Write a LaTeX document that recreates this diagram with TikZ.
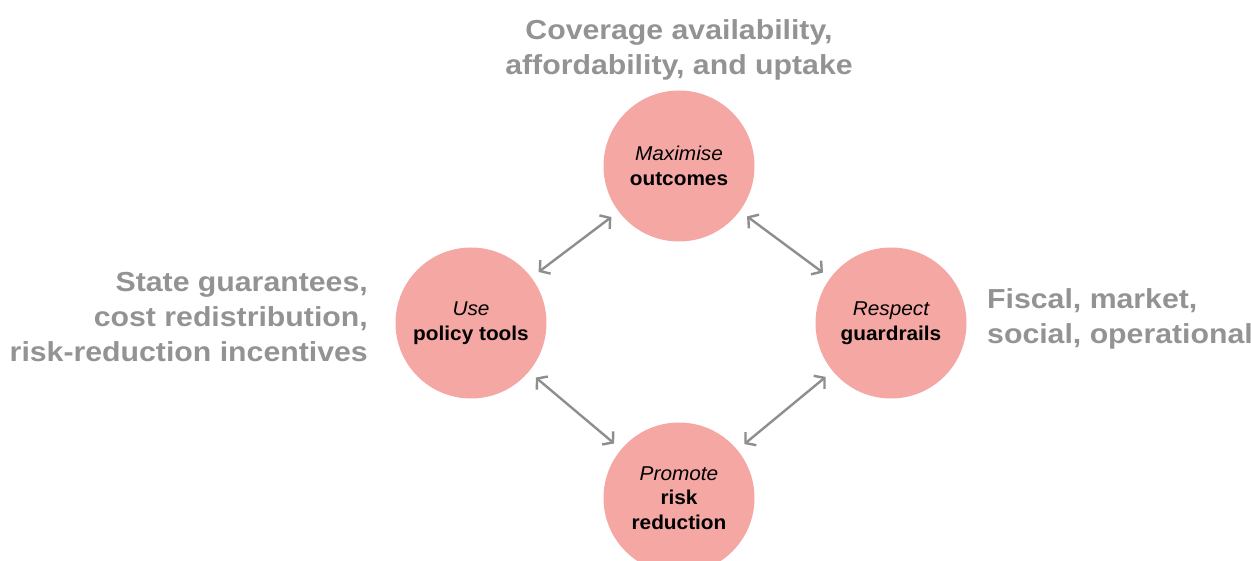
\documentclass[tikz,border=0pt]{standalone}
\usepackage{fontspec}
\setmainfont{Liberation Sans}
\newfontfamily\sidefont[FakeStretch=1.1]{Liberation Sans}
\newfontfamily\circfont[FakeStretch=1.04]{Liberation Sans}
\usetikzlibrary{arrows.meta}
\definecolor{pinkfill}{HTML}{F4A7A3}
\definecolor{arrgray}{HTML}{8E8E8E}
\definecolor{labgray}{HTML}{939393}
\tikzset{
  circ/.style={circle,fill=pinkfill,minimum size=151pt,inner sep=0pt,align=center,
    font=\circfont\fontsize{20}{24.5}\selectfont},
  side/.style={text=labgray,font=\sidefont\fontsize{27.5}{35}\selectfont\bfseries,inner sep=0pt},
  link/.style={draw=arrgray,line width=2.4pt,{Straight Barb[length=7pt,width=17pt]}-{Straight Barb[length=7pt,width=17pt]},shorten <=9pt,shorten >=9pt}
}
\begin{document}
\begin{tikzpicture}[x=1pt,y=-1pt]
\useasboundingbox (0,0) rectangle (1251,561);
\node[circ] (t) at (679,166) {\itshape Maximise\\\bfseries outcomes};
\node[circ] (l) at (471,323) {\itshape Use\\\bfseries policy tools};
\node[circ] (r) at (891,323) {\itshape Respect\\\bfseries guardrails};
\node[circ] (b) at (679,498) {\itshape Promote\\\bfseries risk\\\bfseries reduction};
\draw[link] (l) -- (t);
\draw[link] (t) -- (r);
\draw[link] (l) -- (b);
\draw[link] (b) -- (r);
\node[side,align=center] (tl) at (679,50) {Coverage availability,\\affordability, and uptake};
\node[side,align=right,anchor=east] (ll) at (368,317) {State guarantees,\\cost redistribution,\\risk-reduction incentives};
\node[side,align=left,anchor=west] (rl) at (987,319) {Fiscal, market,\\social, operational};
\end{tikzpicture}
\end{document}
